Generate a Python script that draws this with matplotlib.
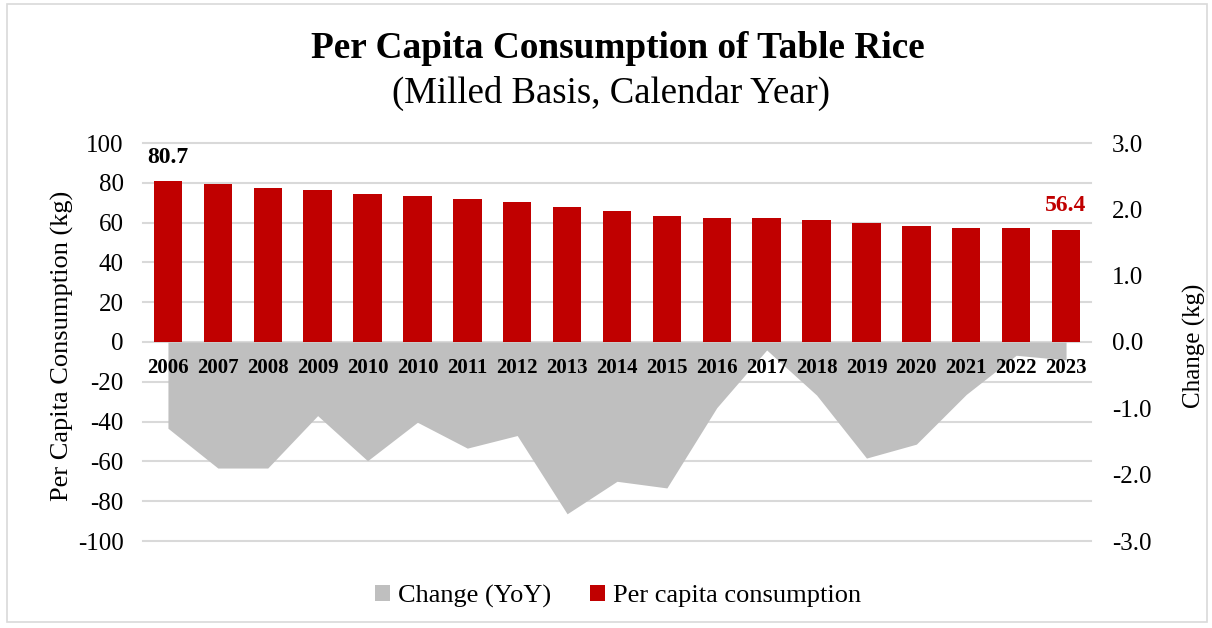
import matplotlib
matplotlib.use("Agg")
import matplotlib.pyplot as plt
from matplotlib.patches import Patch, Rectangle

# data
years = ["2006", "2007", "2008", "2009", "2010", "2010", "2011", "2012", "2013",
         "2014", "2015", "2016", "2017", "2018", "2019", "2020", "2021", "2022", "2023"]
consumption = [80.7, 79.4, 77.4, 76.4, 74.5, 73.2, 71.7, 70.4, 67.7,
               65.7, 63.3, 62.3, 62.3, 61.5, 59.8, 58.1, 57.3, 57.1, 56.4]
change = [-1.30, -1.90, -1.90, -1.11, -1.79, -1.21, -1.60, -1.41, -2.59,
          -2.10, -2.20, -0.99, -0.12, -0.80, -1.75, -1.54, -0.79, -0.20, -0.27]
left_ticks = list(range(-100, 101, 20))
right_ticks = [-3, -2, -1, 0, 1, 2, 3]

RED = "#C00000"
GRAY = "#BFBFBF"
GRID = "#D9D9D9"

plt.rcParams["font.family"] = ["Liberation Serif", "DejaVu Serif"]
plt.rcParams["axes.unicode_minus"] = False

fig = plt.figure(figsize=(12.12, 6.28), dpi=100)
fig.patches.append(Rectangle((7 / 1212, 6 / 628), 1200 / 1212, 618 / 628,
                             transform=fig.transFigure, fill=False,
                             edgecolor="#D9D9D9", linewidth=1.2))

ax = fig.add_axes([143 / 1212, 87 / 628, 948 / 1212, 398 / 628])
ax2 = ax.twinx()
ax2.set_zorder(ax.get_zorder() - 1)
ax.patch.set_visible(False)

x = list(range(len(years)))

# gridlines follow the left axis (every 20 kg), under the area
for v in left_ticks:
    ax2.axhline(v * 3 / 100, color=GRID, linewidth=1.5, zorder=1, clip_on=False)

# change area on the right axis
ax2.fill_between(x, change, 0, color=GRAY, linewidth=0, zorder=2)
ax2.set_ylim(-3, 3)
ax2.set_yticks(right_ticks)
ax2.set_yticklabels(["%.1f" % v for v in right_ticks], fontsize=18)
ax2.tick_params(axis="y", length=0, pad=15)
ax2.set_ylabel("Change (kg)", fontsize=18)
ax2.yaxis.set_label_coords(1.097, 0.49)

# bars on the left axis
ax.bar(x, consumption, width=0.57, color=RED, zorder=3)
ax.set_ylim(-100, 100)
ax.set_xlim(-0.5, len(years) - 0.5)
ax.spines["bottom"].set_position(("data", 0))
ax.set_yticks(left_ticks)
ax.set_yticklabels([str(v) for v in left_ticks], fontsize=18)
ax.tick_params(axis="y", length=0, pad=14)
ax.set_ylabel("Per Capita Consumption (kg)", fontsize=19)
ax.yaxis.set_label_coords(-0.073, 0.49)

ax.set_xticks(x)
ax.set_xticklabels(years, fontsize=15, fontweight="bold")
ax.tick_params(axis="x", length=0, pad=11.5)

for a in (ax, ax2):
    for s in a.spines.values():
        s.set_visible(False)

ax.annotate("%.1f" % consumption[0], (x[0], consumption[0]), xytext=(0, 17),
            textcoords="offset points", ha="center", va="center",
            fontsize=17, fontweight="bold", color="black")
ax.annotate("%.1f" % consumption[-1], (x[-1], consumption[-1]), xytext=(0, 17.5),
            textcoords="offset points", ha="center", va="center",
            fontsize=17, fontweight="bold", color=RED)

fig.text(618 / 1212, 1 - 49 / 628, "Per Capita Consumption of Table Rice",
         ha="center", va="center", fontsize=26.8, fontweight="bold")
fig.text(611 / 1212, 1 - 93 / 628, "(Milled Basis, Calendar Year)",
         ha="center", va="center", fontsize=26.5)

handles = [Patch(facecolor=GRAY, label="Change (YoY)"),
           Patch(facecolor=RED, label="Per capita consumption")]
fig.legend(handles=handles, loc="center", bbox_to_anchor=(618 / 1212, 1 - 596 / 628),
           ncol=2, frameon=False, fontsize=19, handlelength=0.55, handleheight=0.55,
           handletextpad=0.3, columnspacing=1.5)

fig.savefig("out.png", dpi=100)
